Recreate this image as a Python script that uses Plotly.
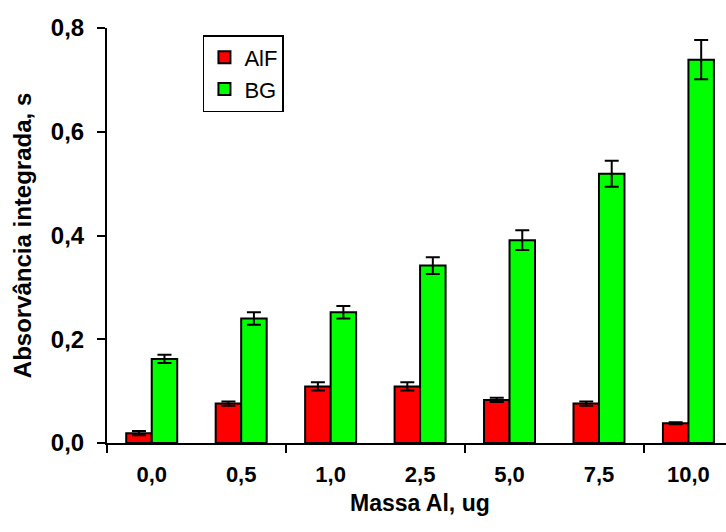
import plotly.graph_objects as go

categories = ["0,0", "0,5", "1,0", "2,5", "5,0", "7,5", "10,0"]
alf_values = [0.019, 0.076, 0.109, 0.109, 0.083, 0.076, 0.038]
alf_errors = [0.004, 0.004, 0.008, 0.008, 0.004, 0.004, 0.002]
bg_values = [0.162, 0.240, 0.252, 0.342, 0.391, 0.519, 0.739]
bg_errors = [0.008, 0.012, 0.012, 0.016, 0.019, 0.025, 0.038]
y_ticks = [0.0, 0.2, 0.4, 0.6, 0.8]

xpos = list(range(len(categories)))
FONT = "Arial, Liberation Sans, sans-serif"

fig = go.Figure()
fig.add_trace(go.Bar(
    x=xpos, y=alf_values, name="AlF",
    marker=dict(color="#FF0000", line=dict(color="black", width=2)),
    error_y=dict(type="data", array=alf_errors, color="black", thickness=2, width=7),
))
fig.add_trace(go.Bar(
    x=xpos, y=bg_values, name="BG",
    marker=dict(color="#00FF00", line=dict(color="black", width=2)),
    error_y=dict(type="data", array=bg_errors, color="black", thickness=2, width=7),
))

fig.update_layout(
    width=726, height=532,
    margin=dict(l=107, r=0, t=28, b=89),
    paper_bgcolor="white", plot_bgcolor="white",
    barmode="group", bargap=0.43, bargroupgap=0,
    separators=",.",
    font=dict(family=FONT, color="black"),
    showlegend=True,
    legend=dict(
        x=0.155, y=0.983, xanchor="left", yanchor="top",
        bordercolor="black", borderwidth=1.5, bgcolor="white",
        font=dict(size=22, family=FONT, color="black"),
        itemclick=False,
    ),
    xaxis=dict(
        range=[-0.5, 6.42],
        tickmode="array", tickvals=xpos, ticktext=categories,
        ticks="", showgrid=False, zeroline=False,
        showline=True, linecolor="black", linewidth=2,
        tickfont=dict(size=22, family=FONT, color="black", weight="bold"),
        ticklabelstandoff=11,
        minor=dict(tickmode="array", tickvals=[-0.5, 1.5, 3.5, 5.5],
                   ticks="outside", ticklen=8, tickwidth=2, tickcolor="black",
                   showgrid=False),
    ),
    yaxis=dict(
        range=[0, 0.8],
        tickmode="array", tickvals=y_ticks, tickformat=".1f",
        ticks="outside", ticklen=8, tickwidth=2, tickcolor="black",
        showgrid=False, zeroline=False,
        showline=True, linecolor="black", linewidth=2,
        tickfont=dict(size=24, family=FONT, color="black", weight="bold"),
        ticklabelstandoff=8,
        title=dict(text="Absorvância integrada, s", standoff=12,
                   font=dict(size=24, family=FONT, color="black", weight="bold")),
    ),
    annotations=[dict(
        text="Massa Al, ug", xref="paper", yref="paper",
        x=(420 - 107) / 619, y=(443 - 503) / 415,
        xanchor="center", yanchor="middle", showarrow=False,
        font=dict(size=23, family=FONT, color="black", weight="bold"),
    )],
)

fig.write_html("out.html")
